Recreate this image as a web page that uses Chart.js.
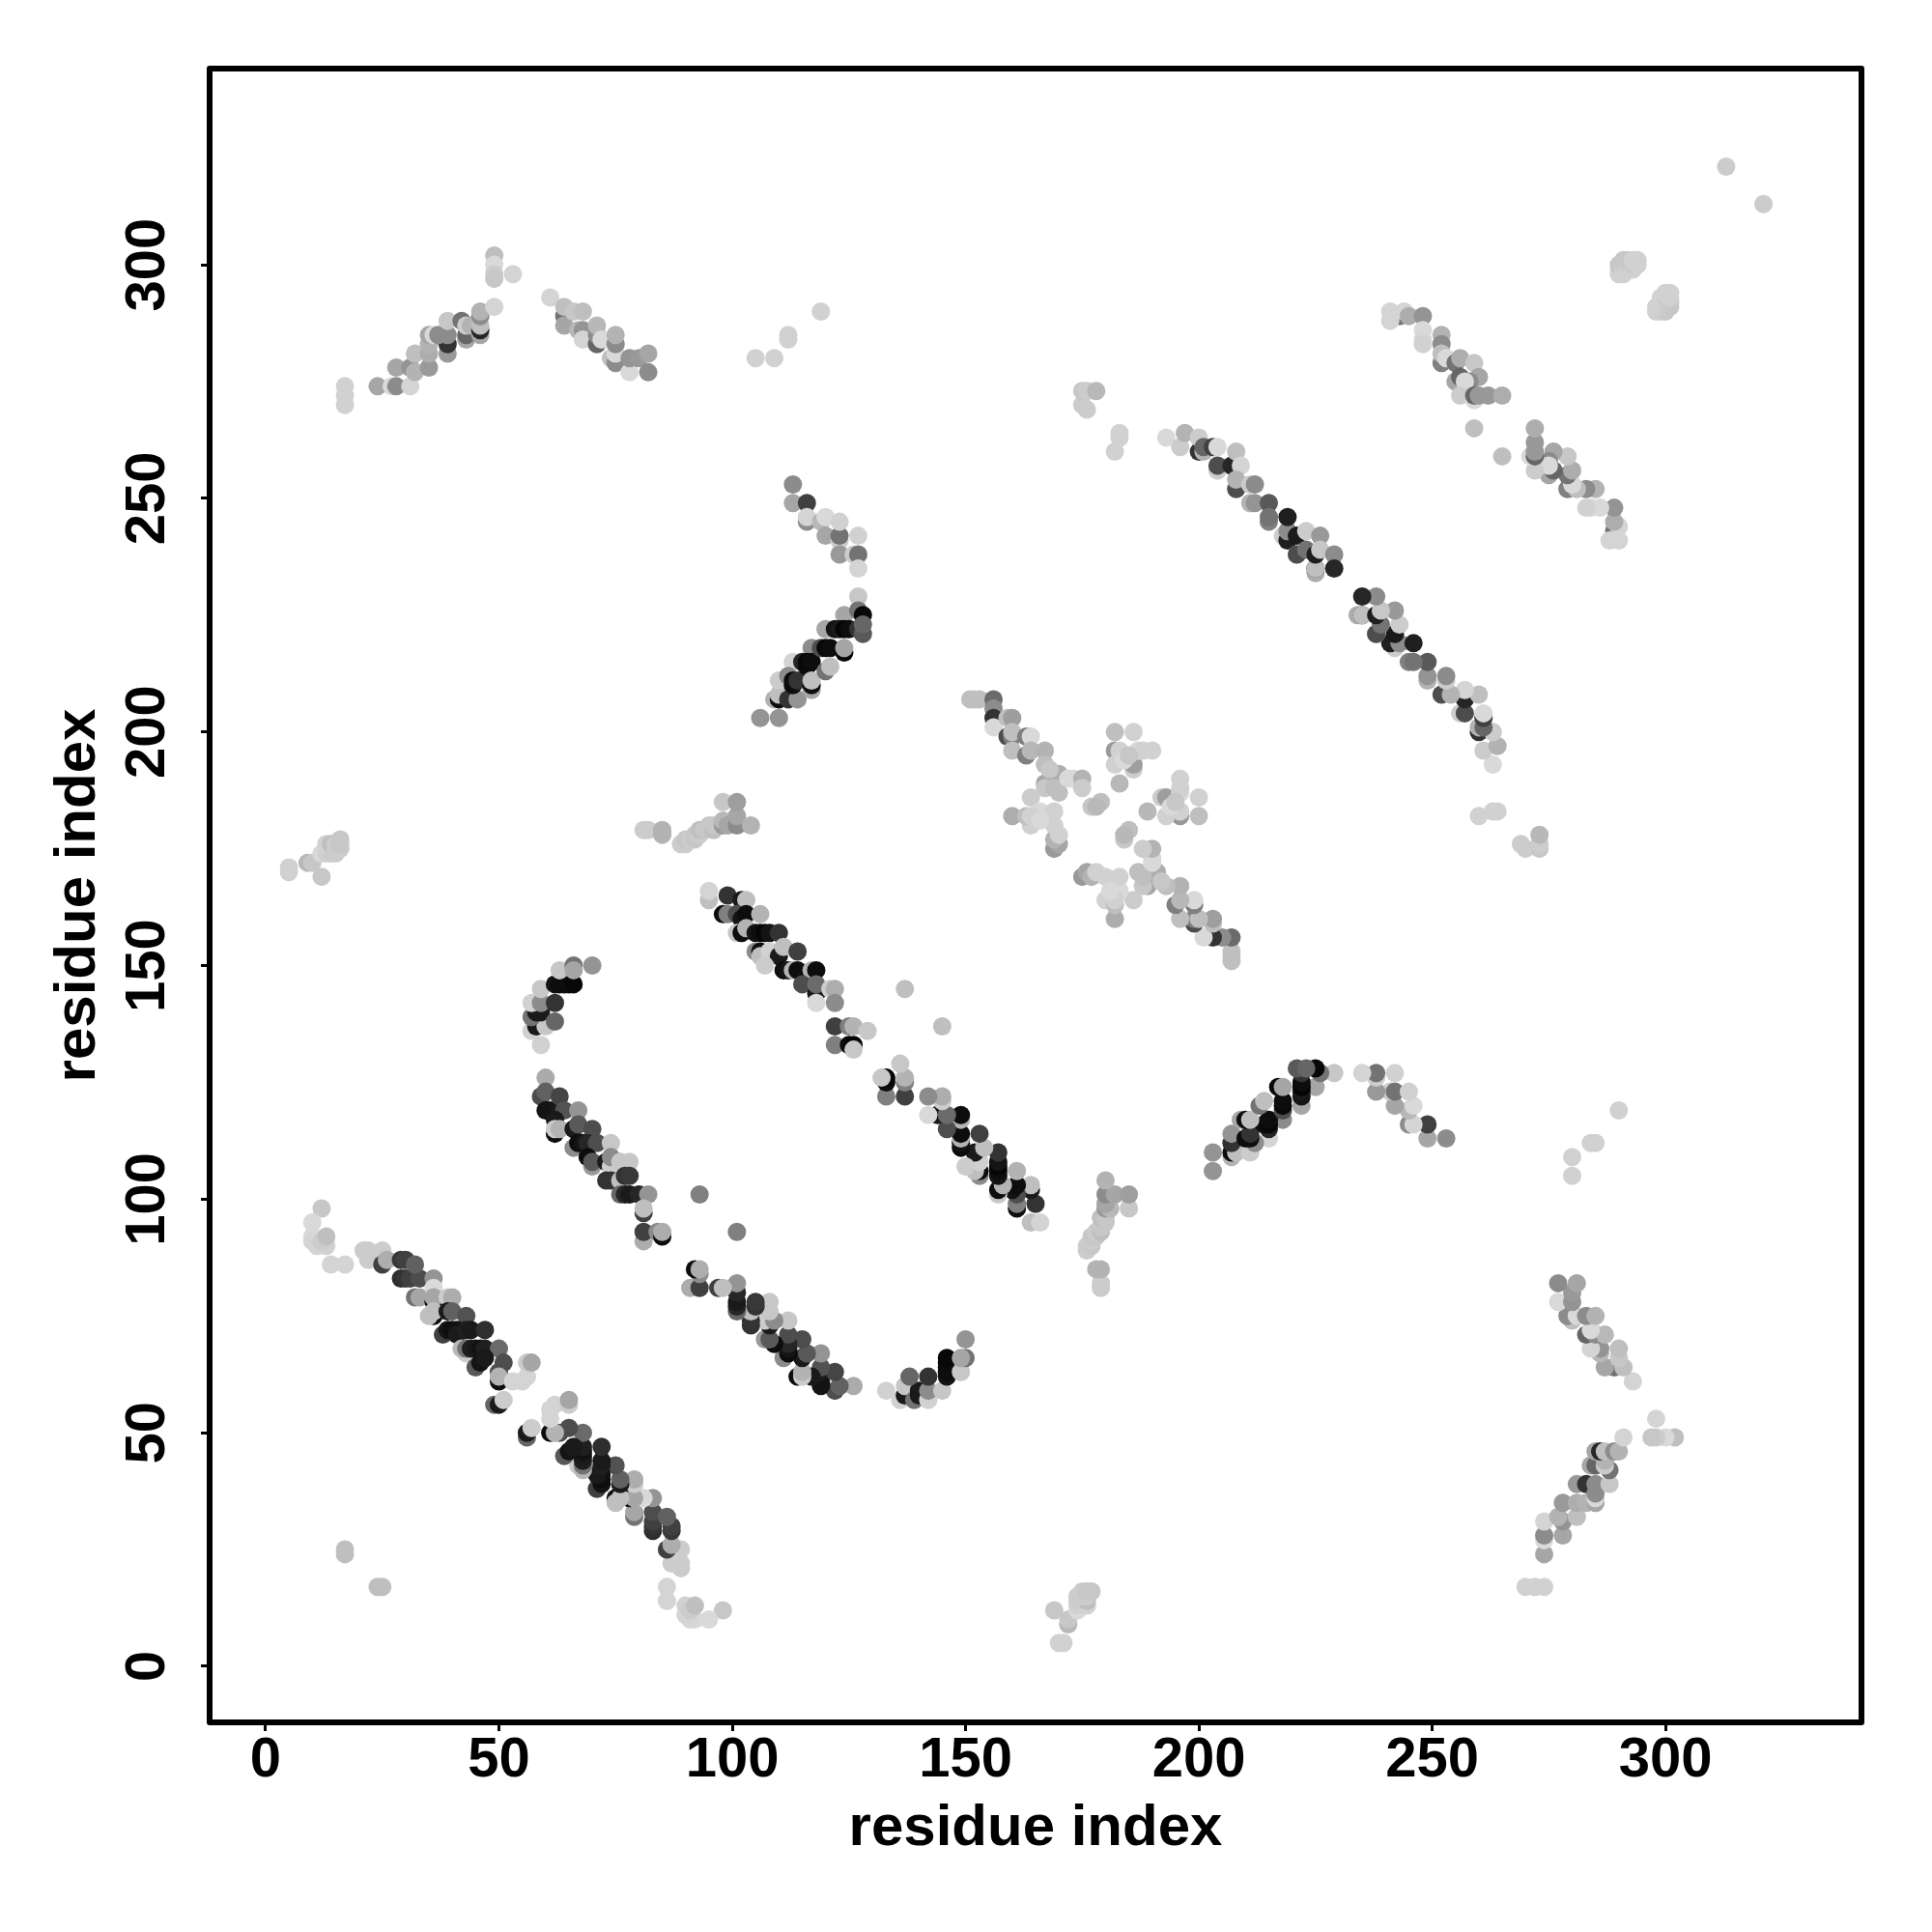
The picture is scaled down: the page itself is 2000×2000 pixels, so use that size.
<!DOCTYPE html>
<html>
<head>
<meta charset="utf-8">
<title>residue contacts</title>
<script src="https://cdn.jsdelivr.net/npm/chart.js@4/dist/chart.umd.min.js"></script>
<style>
  html, body { margin: 0; padding: 0; background: #fff; }
  canvas { display: block; }
</style>
</head>
<body>
<canvas id="contact_map" width="2000" height="2000"></canvas>
<script>
const tick_values = [0, 50, 100, 150, 200, 250, 300];
const axis_label = "residue index";

// each contact is [residue a, residue b, grey percent], read for a < b
// the map is symmetric so the other half comes from the same rows
const band_n_light = [
  [12,98,78],[10,95,85],[10,92,85],[10,91,84],[11,90,83],[13,90,82],[12,91,80],[13,92,75],[14,86,83],[17,86,83],
  [21,89,80],[22,89,80],[22,87,80],[25,89,80],
];
const band_n_dark = [
  [25,86,25],[26,87,68],[29,83,18],[30,83,20],[29,87,22],[30,87,25],[31,83,25],[33,83,30],[32,86,38],[36,83,58],
  [32,79,45],[33,79,65],[36,78,5],[36,81,85],[36,79,65],[39,79,80],[40,79,68],
  [36,75,5],[35,75,75],[36,76,75],[38,71,25],[39,76,10],[40,76,38],[43,75,32],
  [39,72,8],[40,72,5],[41,72,7],[41,71,10],[43,72,12],[44,72,10],[47,72,18],[43,67,80],[42,68,72],[43,68,45],[45,64,35],
  [44,68,12],[45,68,10],[46,68,7],[47,68,12],[50,68,42],
  [46,65,8],[47,66,10],[50,63,30],[51,65,30],[50,61,5],[50,62,70],[49,56,40],[50,56,10],[51,57,80],
  [53,61,83],[55,61,83],[56,62,83],[56,65,80],[57,65,65],
];
const band_m = [
  [60,126,67],[59,122,30],[60,123,38],[60,119,8],[61,119,8],[63,119,10],[63,122,27],[64,119,32],[67,119,58],
  [62,114,5],[62,117,10],[62,115,80],[63,115,70],[66,115,10],[67,116,35],[70,115,30],
  [66,111,55],[67,112,5],[68,112,8],[69,112,15],[71,112,30],[74,112,78],[69,109,5],[70,107,60],[70,108,35],
  [73,108,10],[74,107,80],[74,109,55],[73,104,20],[74,104,20],[76,104,75],[76,108,78],[78,108,78],[77,105,20],[78,105,22],
  [76,101,40],[77,101,15],[78,101,10],[80,101,15],[82,101,58],[81,97,25],[81,98,75],
  [81,91,68],[81,93,25],[84,93,55],[85,92,5],[85,93,68],[93,101,50],
];
const band_c_top = [
  [95,164,75],[95,166,83],[99,165,20],[102,164,10],[103,164,75],
  [98,161,5],[99,161,50],[101,161,30],[102,160,8],[103,161,5],[106,161,70],
  [101,157,78],[102,157,5],[103,158,70],[105,157,8],[106,157,5],[107,157,2],[108,157,8],[110,157,20],
  [105,153,55],[106,153,5],[106,152,75],[108,153,82],[110,152,10],[111,154,75],
  [107,150,80],[111,149,5],[112,149,8],[114,153,25],[113,149,70],[114,149,5],[117,149,70],[118,149,5],
  [115,146,30],[118,144,10],[118,146,42],[118,142,85],[121,145,80],[122,145,68],[122,142,55],
];
const band_c_low = [
  [122,137,25],[125,137,50],[126,137,70],[129,136,78],[122,133,50],[125,133,5],[126,133,2],
  [132,126,78],[137,145,75],
];
const band_d_a = [
  [193,263,85],[196,261,80],[197,264,70],[200,260,20],[200,263,80],[201,260,70],[201,261,40],
  [203,261,25],[204,261,85],[204,256,80],[204,257,30],[207,257,15],[208,260,75],[209,257,83],
  [208,252,30],[208,254,70],[211,249,70],[211,253,80],[212,253,55],[212,249,58],
  [215,245,50],[215,249,35],[215,246,45],[218,242,80],[219,241,12],[219,243,55],[219,246,12],
];
const band_d_b = [
  [221,242,10],[223,243,80],[226,242,60],[221,238,70],[221,238,30],[223,239,45],
  [225,234,68],[225,235,15],[225,235,75],[225,238,12],[226,239,78],[229,238,55],[229,235,15],
];
const arm_top = [
  [113,253,55],[113,249,65],[116,245,55],[116,249,25],[116,246,83],[119,245,72],[120,246,85],[120,242,65],
  [123,241,80],[123,242,45],[123,245,82],[127,242,82],[123,238,60],[126,238,80],[127,238,45],[127,235,83],
];
const arm_low = [
  [106,203,58],[110,203,58],[109,207,70],[110,207,5],[110,208,75],[112,207,20],[114,207,58],
  [110,211,80],[113,215,83],[112,212,55],[113,210,5],[113,211,5],[114,211,20],
  [117,218,55],[115,215,15],[116,214,5],[116,215,3],[117,215,5],[117,209,65],[117,210,5],[117,211,75],
  [120,222,65],[119,218,30],[120,218,3],[121,218,5],[120,213,45],[121,214,75],
  [124,225,65],[122,222,8],[123,222,10],[124,222,2],[125,222,5],[124,217,3],[124,218,65],
  [127,229,78],[127,226,45],[128,225,3],[127,222,20],[128,221,35],[128,223,40],
];
const cross_upper = [
  [151,207,75],[153,207,75],[152,207,75],[156,207,42],[156,205,55],[156,203,20],[156,201,85],
  [159,203,75],[160,203,62],[159,199,30],[160,199,50],[160,200,75],[160,196,75],
  [163,199,50],[164,199,85],[163,195,50],[164,196,72],[167,196,70],
  [169,189,50],[167,193,75],[167,189,65],[167,188,78],[170,191,68],[170,187,75],
  [168,192,78],[169,188,75],[172,190,85],[173,190,85],[175,190,70],[175,188,80],
  [177,184,78],[179,185,75],[178,184,72],
];
const cross_cluster_a = [
  [182,200,75],[186,200,82],[182,196,60],[183,196,82],[182,193,82],[186,192,80],[186,193,62],[183,189,72],
  [187,196,85],[190,196,82],[188,196,82],[184,194,85],[185,195,78],
];
const cross_cluster_c = [
  [169,175,60],[170,176,65],[169,177,70],[164,186,80],[160,182,68],[164,180,82],[163,182,75],
  [166,183,85],[169,183,82],[164,182,82],[169,180,82],[170,178,82],[166,181,85],
];
const band_g = [
  [243,289,45],[241,290,83],[241,288,83],[244,290,83],[245,289,68],[248,289,58],[248,286,85],[248,284,85],[248,283,82],
  [252,285,70],[252,283,55],[252,279,50],[252,281,75],[253,280,85],[255,279,45],[256,280,68],[259,279,78],
  [255,275,65],[256,276,40],[260,276,65],[258,275,55],[257,275,85],[256,272,80],[259,271,85],
  [259,272,40],[260,272,60],[262,272,60],[265,272,68],[259,265,75],
];
const peak_left = [
  [17,270,82],[17,272,82],[17,274,82],[24,274,65],[27,274,85],[28,274,55],[31,274,83],
  [28,278,65],[31,278,58],[32,281,75],[32,277,70],[35,278,60],[35,281,68],[35,283,70],[35,285,65],[36,285,85],
  [39,281,60],[39,283,20],[39,285,55],[37,285,55],[39,288,78],[42,288,45],[43,284,65],[43,285,40],[43,287,80],
  [44,287,70],[46,285,65],[46,286,15],[46,287,75],[46,289,55],[46,290,70],[49,291,83],
  [49,302,75],[49,300,85],[49,298,80],[49,297,78],[53,298,83],
];
const peak_right = [
  [61,293,83],[64,289,45],[64,291,75],[64,287,65],[66,290,78],[68,290,75],[67,286,72],[68,286,58],[68,284,83],
  [71,283,40],[71,285,55],[71,287,72],[72,284,85],[74,280,75],[75,279,55],[75,281,85],[75,283,55],[75,285,70],
  [78,277,85],[78,280,58],[80,280,60],[82,277,55],[82,281,65],
];
const left_patch = [
  [5,170,82],[5,171,82],[9,172,72],[10,172,78],[12,169,78],[12,174,85],[13,174,82],[14,174,80],[15,174,80],
  [13,176,82],[14,176,75],[15,175,80],[15,176,80],[16,175,80],[16,176,78],[16,177,78],
];
const low_pair = [[17,24,75],[17,25,75]];
const strip_180 = [
  [81,179,80],[82,179,80],[85,178,70],[85,179,70],[89,176,80],[90,176,80],[90,177,78],[91,177,80],[92,177,78],[92,178,78],[93,178,80],
  [93,179,75],[94,179,78],[95,180,78],[96,179,75],[96,180,78],[98,185,78],[98,180,60],[98,181,72],[99,180,65],
  [101,180,55],[101,182,65],[101,185,62],[104,180,70],
];
const notch_145 = [
  [59,133,82],[57,136,82],[58,137,10],[60,137,78],[57,139,45],[58,140,10],[59,140,10],[62,138,40],[57,142,82],
  [59,142,55],[62,142,20],[59,145,78],[62,146,8],[63,146,5],[64,146,5],[65,146,5],[63,149,78],[66,146,3],[66,150,45],[66,149,65],[70,150,58],
];
const far_points = [
  [105,280,82],[109,280,82],[112,284,82],[112,285,82],[119,290,82],
  [175,270,80],[176,269,80],[175,273,78],[176,273,80],[178,273,72],
  [182,260,82],[183,263,82],[183,264,82],[313,321,80],
  [290,298,82],[290,299,82],[290,300,78],[291,298,82],[291,299,82],[291,300,80],[291,301,78],[292,299,82],[292,300,80],
  [292,301,78],[293,299,82],[293,300,80],[293,301,82],[294,300,82],[294,301,82],
];

const contact_rows = [
  band_n_light, band_n_dark, band_m, band_c_top, band_c_low, band_d_a, band_d_b, arm_top, arm_low,
  cross_upper, cross_cluster_a, cross_cluster_c, band_g, peak_left, peak_right, left_patch,
  low_pair, strip_180, notch_145, far_points,
].flat();

const grey = (pct) => {
  const v = Math.round((pct / 100) * 255);
  return `rgb(${v},${v},${v})`;
};

const points = [];
const colors = [];
contact_rows.forEach(([a, b, pct]) => {
  points.push({ x: a, y: b });
  colors.push(grey(pct));
  points.push({ x: b, y: a });
  colors.push(grey(pct));
});

const frame_plugin = {
  id: "frame",
  afterDraw(chart) {
    const { ctx, chartArea: a } = chart;
    ctx.save();
    ctx.strokeStyle = "#000";
    ctx.lineWidth = 6;
    ctx.lineJoin = "round";
    ctx.strokeRect(a.left, a.top, a.right - a.left, a.bottom - a.top);
    ctx.restore();
  },
};

const use_ticks = (scale) => {
  scale.ticks = tick_values.map((v) => ({ value: v }));
};

const font_family = "'Liberation Sans', Arial, sans-serif";
const tick_font = { family: font_family, size: 58, weight: "bold" };
const title_font = { family: font_family, size: 60, weight: "bold" };

new Chart(document.getElementById("contact_map"), {
  type: "scatter",
  data: {
    datasets: [
      {
        data: points,
        pointBackgroundColor: colors,
        pointBorderWidth: 0,
        pointRadius: 9.5,
      },
    ],
  },
  plugins: [frame_plugin],
  options: {
    responsive: false,
    animation: false,
    layout: { padding: { top: 71, right: 73, left: 0, bottom: 0 } },
    plugins: { legend: { display: false }, tooltip: { enabled: false } },
    scales: {
      x: {
        type: "linear",
        min: -12,
        max: 342,
        afterBuildTicks: use_ticks,
        afterFit: (scale) => {
          scale.height = 217;
        },
        border: { display: false },
        grid: { drawOnChartArea: false, tickLength: 9, tickWidth: 3, tickColor: "#000" },
        ticks: { color: "#000", font: tick_font, padding: -4, maxRotation: 0, autoSkip: false },
        title: {
          display: true,
          text: axis_label,
          color: "#000",
          font: title_font,
          padding: { top: 0, bottom: 71 },
        },
      },
      y: {
        type: "linear",
        min: -12,
        max: 342,
        afterBuildTicks: use_ticks,
        afterFit: (scale) => {
          scale.width = 217;
        },
        border: { display: false },
        grid: { drawOnChartArea: false, tickLength: 9, tickWidth: 3, tickColor: "#000" },
        ticks: {
          color: "#000",
          font: tick_font,
          padding: 6,
          minRotation: 90,
          maxRotation: 90,
          crossAlign: "center",
          autoSkip: false,
        },
        title: {
          display: true,
          text: axis_label,
          color: "#000",
          font: title_font,
          padding: { top: 45, bottom: 0 },
        },
      },
    },
  },
});
</script>
</body>
</html>
